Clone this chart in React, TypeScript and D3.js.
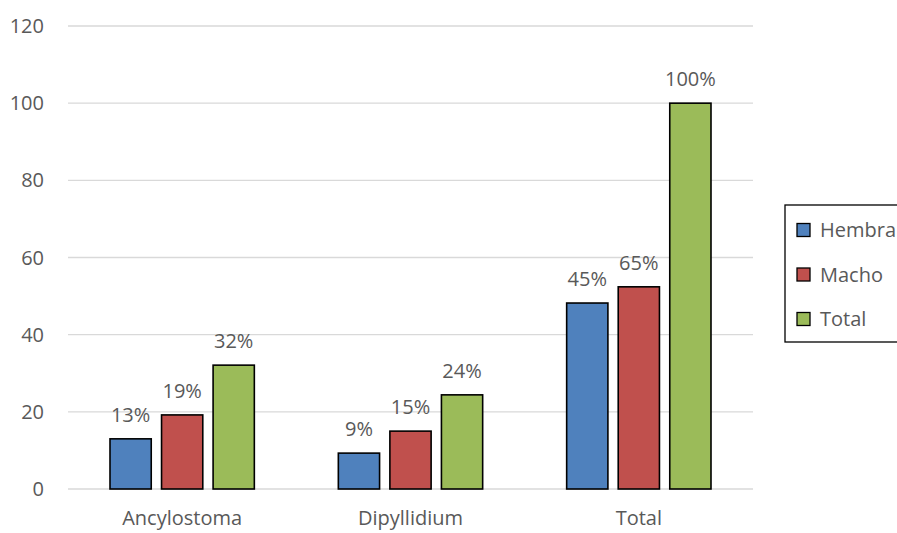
import React from "react";
import * as d3 from "d3";

const categories = ["Ancylostoma", "Dipyllidium", "Total"];
const seriesNames = ["Hembra", "Macho", "Total"];
const hembra = [13, 9.3, 48.2];
const macho = [19.2, 15, 52.4];
const total = [32.1, 24.4, 100];
const hembraLabels = ["13%", "9%", "45%"];
const machoLabels = ["19%", "15%", "65%"];
const totalLabels = ["32%", "24%", "100%"];
const yTicks = [0, 20, 40, 60, 80, 100, 120];

const colors = ["#4F81BD", "#C0504D", "#9BBB59"];
const font = "'Open Sans', 'Noto Sans', sans-serif";
const textColor = "#595959";
const fs = 20;

export default function App() {
  const width = 897;
  const height = 533;
  const plot = { left: 68, right: 753, top: 26, bottom: 489 };

  const y = d3.scaleLinear().domain([0, 120]).range([plot.bottom, plot.top]);
  const x = d3
    .scaleBand<string>()
    .domain(categories)
    .range([plot.left, plot.right])
    .paddingInner(0)
    .paddingOuter(0);
  const inner = d3
    .scaleBand<string>()
    .domain(seriesNames)
    .range([42, x.bandwidth() - 42])
    .paddingInner(0.2);

  const values = [hembra, macho, total];
  const labels = [hembraLabels, machoLabels, totalLabels];

  return (
    <svg
      width={width}
      height={height}
      style={{ position: "absolute", left: 0, top: 0, background: "#fff" }}
      fontFamily={font}
    >
      {yTicks.map((t) => (
        <g key={t}>
          <line
            x1={plot.left}
            x2={plot.right}
            y1={y(t)}
            y2={y(t)}
            stroke="#d9d9d9"
            strokeWidth={1.3}
          />
          <text
            x={44}
            y={y(t)}
            dy="0.35em"
            textAnchor="end"
            fontSize={fs}
            fill={textColor}
          >
            {t}
          </text>
        </g>
      ))}
      {categories.map((c, ci) => (
        <g key={c} transform={`translate(${x(c)},0)`}>
          {seriesNames.map((s, si) => {
            const v = values[si][ci];
            const bx = inner(s)!;
            return (
              <g key={s}>
                <rect
                  x={bx}
                  y={y(v)}
                  width={inner.bandwidth()}
                  height={y(0) - y(v)}
                  fill={colors[si]}
                  stroke="#000"
                  strokeWidth={1.6}
                />
                <text
                  x={bx + inner.bandwidth() / 2}
                  y={y(v) - 17}
                  textAnchor="middle"
                  fontSize={fs}
                  fill={textColor}
                >
                  {labels[si][ci]}
                </text>
              </g>
            );
          })}
          <text
            x={x.bandwidth() / 2}
            y={525}
            textAnchor="middle"
            fontSize={fs}
            fill={textColor}
          >
            {c}
          </text>
        </g>
      ))}
      <rect x={785} y={205} width={130} height={137} fill="#fff" stroke="#000" strokeWidth={1.3} />
      {seriesNames.map((s, si) => (
        <g key={s} transform={`translate(797,${230 + si * 44.5})`}>
          <rect x={0} y={-6.5} width={13} height={13} fill={colors[si]} stroke="#000" strokeWidth={1.3} />
          <text x={23} y={0} dy="0.35em" fontSize={fs} fill={textColor}>
            {s}
          </text>
        </g>
      ))}
    </svg>
  );
}
